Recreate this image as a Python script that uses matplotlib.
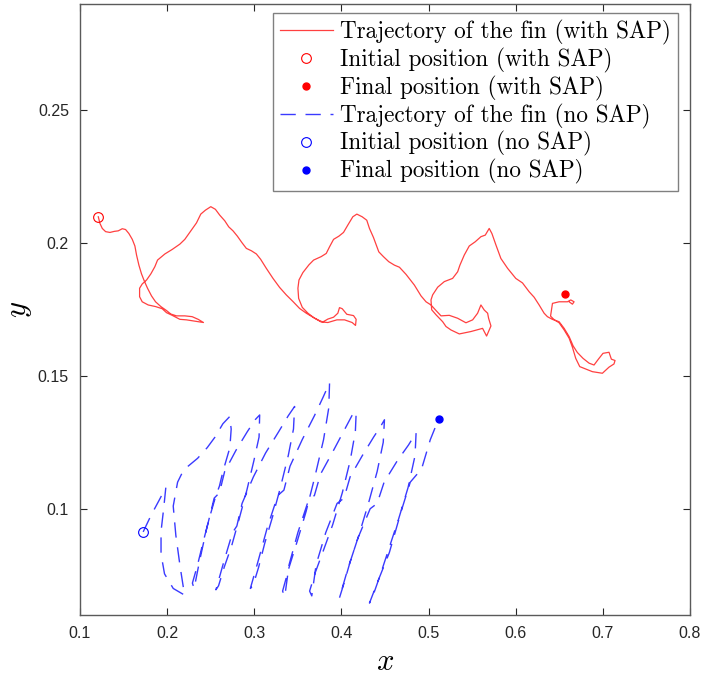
import numpy as np
import matplotlib
matplotlib.use("Agg")
import matplotlib.pyplot as plt

plt.rcParams['mathtext.fontset'] = 'cm'

# trajectory with SAP (red)
sap_x = [0.1210, 0.1229, 0.1256, 0.1294, 0.1344, 0.1393, 0.1439, 0.1485, 0.1523, 0.1561,
         0.1600, 0.1630, 0.1649, 0.1676, 0.1706, 0.1737, 0.1775, 0.1821, 0.1867, 0.1928,
         0.1993, 0.2042, 0.2107, 0.2203, 0.2287, 0.2356, 0.2417, 0.2317, 0.2222, 0.2146,
         0.2058, 0.1993, 0.1943, 0.1867, 0.1783, 0.1714, 0.1684, 0.1684, 0.1714, 0.1764,
         0.1813, 0.1859, 0.1890, 0.1974, 0.2058, 0.2146, 0.2203, 0.2272, 0.2337, 0.2386,
         0.2440, 0.2501, 0.2554, 0.2604, 0.2661, 0.2707, 0.2756, 0.2806, 0.2860, 0.2909,
         0.2967, 0.3024, 0.3073, 0.3138, 0.3215, 0.3291, 0.3367, 0.3444, 0.3520, 0.3597,
         0.3673, 0.3749, 0.3787, 0.3845, 0.3910, 0.3959, 0.3978, 0.4009, 0.4062, 0.4139,
         0.4169, 0.4162, 0.4123, 0.4036, 0.3948, 0.3845, 0.3768, 0.3692, 0.3616, 0.3551,
         0.3509, 0.3501, 0.3513, 0.3558, 0.3627, 0.3681, 0.3768, 0.3826, 0.3864, 0.3910,
         0.3971, 0.4024, 0.4074, 0.4131, 0.4177, 0.4238, 0.4291, 0.4322, 0.4368, 0.4429,
         0.4482, 0.4543, 0.4608, 0.4666, 0.4742, 0.4837, 0.4914, 0.4971, 0.5028, 0.5086,
         0.5143, 0.5238, 0.5334, 0.5429, 0.5506, 0.5563, 0.5601, 0.5639, 0.5678, 0.5689,
         0.5716, 0.5666, 0.5620, 0.5486, 0.5353, 0.5257, 0.5200, 0.5162, 0.5086, 0.5036,
         0.5028, 0.5047, 0.5105, 0.5181, 0.5276, 0.5334, 0.5360, 0.5410, 0.5467, 0.5536,
         0.5601, 0.5651, 0.5696, 0.5727, 0.5773, 0.5830, 0.5907, 0.6001, 0.6078, 0.6154,
         0.6212, 0.6269, 0.6326, 0.6364, 0.6420, 0.6498, 0.6556, 0.6613, 0.6659, 0.6708,
         0.6773, 0.6842, 0.6899, 0.6949, 0.7002, 0.7071, 0.7098, 0.7140, 0.7128, 0.7071,
         0.6995, 0.6880, 0.6735, 0.6689, 0.6651, 0.6613, 0.6556, 0.6498, 0.6440, 0.6400,
         0.6422, 0.6498, 0.6594, 0.6632, 0.6670, 0.6651, 0.6613]
sap_y = [0.2099, 0.2074, 0.2055, 0.2043, 0.2040, 0.2044, 0.2046, 0.2054, 0.2051, 0.2036,
         0.2014, 0.1989, 0.1955, 0.1917, 0.1884, 0.1858, 0.1830, 0.1801, 0.1779, 0.1761,
         0.1746, 0.1733, 0.1726, 0.1726, 0.1723, 0.1713, 0.1701, 0.1706, 0.1711, 0.1713,
         0.1728, 0.1738, 0.1753, 0.1761, 0.1767, 0.1779, 0.1798, 0.1830, 0.1846, 0.1861,
         0.1884, 0.1911, 0.1936, 0.1959, 0.1976, 0.1996, 0.2014, 0.2046, 0.2076, 0.2109,
         0.2124, 0.2137, 0.2127, 0.2105, 0.2084, 0.2061, 0.2046, 0.2026, 0.2001, 0.1980,
         0.1971, 0.1959, 0.1939, 0.1905, 0.1867, 0.1833, 0.1805, 0.1780, 0.1754, 0.1736,
         0.1721, 0.1708, 0.1703, 0.1714, 0.1721, 0.1736, 0.1757, 0.1753, 0.1732, 0.1727,
         0.1713, 0.1690, 0.1701, 0.1711, 0.1711, 0.1701, 0.1703, 0.1717, 0.1736, 0.1758,
         0.1792, 0.1830, 0.1861, 0.1889, 0.1918, 0.1936, 0.1949, 0.1961, 0.1986, 0.2014,
         0.2026, 0.2040, 0.2068, 0.2099, 0.2109, 0.2099, 0.2086, 0.2055, 0.2021, 0.1967,
         0.1949, 0.1930, 0.1917, 0.1909, 0.1882, 0.1842, 0.1801, 0.1779, 0.1767, 0.1746,
         0.1726, 0.1728, 0.1717, 0.1700, 0.1711, 0.1736, 0.1767, 0.1748, 0.1736, 0.1717,
         0.1688, 0.1650, 0.1679, 0.1667, 0.1658, 0.1673, 0.1686, 0.1704, 0.1730, 0.1749,
         0.1786, 0.1805, 0.1834, 0.1855, 0.1867, 0.1892, 0.1917, 0.1955, 0.1989, 0.2005,
         0.2024, 0.2030, 0.2055, 0.2036, 0.1993, 0.1942, 0.1905, 0.1867, 0.1850, 0.1817,
         0.1796, 0.1767, 0.1736, 0.1723, 0.1713, 0.1704, 0.1679, 0.1648, 0.1613, 0.1588,
         0.1566, 0.1548, 0.1541, 0.1563, 0.1585, 0.1589, 0.1563, 0.1558, 0.1545, 0.1533,
         0.1510, 0.1516, 0.1535, 0.1566, 0.1608, 0.1642, 0.1673, 0.1700, 0.1712, 0.1725,
         0.1773, 0.1779, 0.1779, 0.1786, 0.1779, 0.1770, 0.1779]
sap_start = (0.1210, 0.2099)
sap_end = (0.6563, 0.1808)

# trajectory without SAP (blue)
nosap_x = [0.1725, 0.1815, 0.1905, 0.1985, 0.1960, 0.1930, 0.1930, 0.1970, 0.2070, 0.2200,
           0.2150, 0.2100, 0.2070, 0.2120, 0.2180, 0.2240, 0.2350, 0.2460, 0.2550, 0.2640, 0.2718,
           0.2735, 0.2720, 0.2640, 0.2600, 0.2560, 0.2480, 0.2410, 0.2350, 0.2290, 0.2310,
           0.2370, 0.2450, 0.2540, 0.2600, 0.2660, 0.2790, 0.2920, 0.3010, 0.3062,
           0.3055, 0.2995, 0.2915, 0.2825, 0.2740, 0.2655, 0.2590, 0.2560,
           0.2650, 0.2750, 0.2800, 0.2860, 0.2990, 0.3130, 0.3280, 0.3390, 0.3463,
           0.3450, 0.3390, 0.3300, 0.3210, 0.3120, 0.3050, 0.2985, 0.2955,
           0.3050, 0.3150, 0.3270, 0.3340, 0.3410, 0.3550, 0.3690, 0.3790, 0.3864,
           0.3855, 0.3795, 0.3695, 0.3595, 0.3495, 0.3400, 0.3325, 0.3350,
           0.3400, 0.3500, 0.3620, 0.3690, 0.3760, 0.3910, 0.4040, 0.4120, 0.4170,
           0.4160, 0.4100, 0.4010, 0.3900, 0.3790, 0.3700, 0.3635, 0.3660,
           0.3710, 0.3820, 0.3950, 0.4030, 0.4100, 0.4240, 0.4370, 0.4450, 0.4494,
           0.4480, 0.4410, 0.4310, 0.4200, 0.4100, 0.4030, 0.3978,
           0.4070, 0.4190, 0.4330, 0.4410, 0.4490, 0.4640, 0.4770, 0.4857,
           0.4845, 0.4765, 0.4655, 0.4545, 0.4445, 0.4370, 0.4322,
           0.4410, 0.4550, 0.4690, 0.4790, 0.4920, 0.5020, 0.5116]
nosap_y = [0.0913, 0.0975, 0.1030, 0.1080, 0.1000, 0.0915, 0.0830, 0.0755, 0.0700, 0.0675,
           0.0780, 0.0900, 0.1010, 0.1100, 0.1140, 0.1160, 0.1190, 0.1230, 0.1270, 0.1320, 0.1347,
           0.1300, 0.1230, 0.1140, 0.1085, 0.1050, 0.0960, 0.0870, 0.0790, 0.0720, 0.0700,
           0.0800, 0.0920, 0.1040, 0.1060, 0.1140, 0.1220, 0.1290, 0.1335, 0.1353,
           0.1270, 0.1180, 0.1070, 0.0960, 0.0860, 0.0780, 0.0710, 0.0695,
           0.0800, 0.0910, 0.0935, 0.1020, 0.1120, 0.1210, 0.1290, 0.1350, 0.1385,
           0.1300, 0.1200, 0.1080, 0.0970, 0.0870, 0.0780, 0.0710, 0.0700,
           0.0810, 0.0930, 0.1050, 0.1070, 0.1160, 0.1260, 0.1350, 0.1420, 0.1474,
           0.1380, 0.1260, 0.1120, 0.0990, 0.0880, 0.0780, 0.0690, 0.0670,
           0.0790, 0.0910, 0.1030, 0.1050, 0.1130, 0.1220, 0.1300, 0.1350, 0.1366,
           0.1290, 0.1180, 0.1060, 0.0940, 0.0840, 0.0760, 0.0690, 0.0672,
           0.0790, 0.0910, 0.1020, 0.1040, 0.1120, 0.1200, 0.1270, 0.1310, 0.1335,
           0.1250, 0.1140, 0.1020, 0.0900, 0.0800, 0.0720, 0.0665,
           0.0770, 0.0890, 0.1000, 0.1020, 0.1100, 0.1180, 0.1240, 0.1286,
           0.1200, 0.1080, 0.0960, 0.0850, 0.0750, 0.0680, 0.0645,
           0.0720, 0.0835, 0.0995, 0.1100, 0.1150, 0.1260, 0.1338]
nosap_start = (0.1725, 0.0913)
nosap_end = (0.5116, 0.1338)

xticks = [0.1, 0.2, 0.3, 0.4, 0.5, 0.6, 0.7, 0.8]
xticklabels = ['0.1', '0.2', '0.3', '0.4', '0.5', '0.6', '0.7', '0.8']
yticks = [0.1, 0.15, 0.2, 0.25]
yticklabels = ['0.1', '0.15', '0.2', '0.25']

fig = plt.figure(figsize=(7.06, 6.82), dpi=100)
ax = fig.add_axes([0.1133, 0.0982, 0.864, 0.896])

ax.plot(sap_x, sap_y, color='#ff4040', lw=0.9, label='Trajectory of the fin (with SAP)')
ax.plot(sap_start[0], sap_start[1], 'o', ms=7, mfc='none', mec='red', mew=0.8,
        label='Initial position (with SAP)')
ax.plot(sap_end[0], sap_end[1], 'o', ms=5, color='red', label='Final position (with SAP)')
ax.plot(nosap_x, nosap_y, color='#3a3aff', lw=1.0, dashes=(11, 7),
        label='Trajectory of the fin (no SAP)')
ax.plot(nosap_start[0], nosap_start[1], 'o', ms=7, mfc='none', mec='blue', mew=0.8,
        label='Initial position (no SAP)')
ax.plot(nosap_end[0], nosap_end[1], 'o', ms=5, color='blue', label='Final position (no SAP)')

ax.set_xlim(0.1, 0.8)
ax.set_ylim(0.06, 0.29)
ax.set_xticks(xticks)
ax.set_xticklabels(xticklabels)
ax.set_yticks(yticks)
ax.set_yticklabels(yticklabels)
ax.tick_params(direction='in', top=True, right=True, length=5, width=0.8,
               labelsize=11.5, colors='#262626', pad=8)
for lab in ax.get_xticklabels() + ax.get_yticklabels():
    lab.set_family('Liberation Sans')
for sp in ax.spines.values():
    sp.set_color('#5a5a5a')
    sp.set_linewidth(1.0)

ax.set_xlabel('$x$', fontsize=22, labelpad=4)
ax.set_ylabel('$y$', fontsize=22, labelpad=3)

leg = ax.legend(loc='upper right', bbox_to_anchor=(0.980, 0.985), borderaxespad=0,
                prop={'family': 'cmr10', 'size': 16.7}, fancybox=False, framealpha=1,
                edgecolor='#808080', labelspacing=0.12, handlelength=2.3,
                handletextpad=0.3, borderpad=0.3, numpoints=1)
leg.get_frame().set_linewidth(1.0)

fig.savefig('out.png', dpi=100)
